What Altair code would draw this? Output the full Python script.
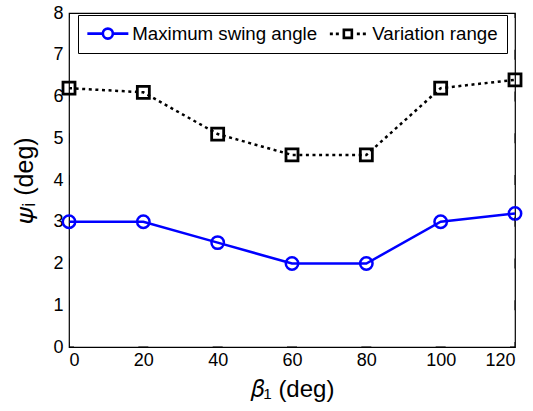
import altair as alt
import pandas as pd

beta = [0, 20, 40, 60, 80, 100, 120]
max_swing = [3.0, 3.0, 2.5, 2.0, 2.0, 3.0, 3.2]
variation = [6.2, 6.1, 5.1, 4.6, 4.6, 6.2, 6.4]
series_names = ["Maximum swing angle", "Variation range"]
x_ticks = [0, 20, 40, 60, 80, 100, 120]
y_ticks = [0, 1, 2, 3, 4, 5, 6, 7, 8]

rows = []
for b, v in zip(beta, max_swing):
    rows.append({"beta": b, "val": v, "series": series_names[0]})
for b, v in zip(beta, variation):
    rows.append({"beta": b, "val": v, "series": series_names[1]})
df = pd.DataFrame(rows)
df_xt = pd.DataFrame({"t": x_ticks})
df_yt = pd.DataFrame({"t": y_ticks})

W, H = 446, 334
FONT = "Liberation Sans"

circ_path = ("M-4.1,0L-1.0,0M1.0,0L4.1,0"
             "M-1.0,0A1.0,1.0 0 1,0 1.0,0A1.0,1.0 0 1,0 -1.0,0")
sq_path = ("M-3.6,0L-3.0,0M-2.4,0L-1.8,0M1.8,0L2.4,0M3.0,0L3.6,0"
           "M-0.8,-0.8L0.8,-0.8L0.8,0.8L-0.8,0.8Z")

color_scale = alt.Scale(domain=series_names, range=["#0000ff", "#000000"])
xs = alt.Scale(domain=[0, 120], nice=False)
ys = alt.Scale(domain=[0, 8], nice=False)

x_main = alt.X("beta:Q", scale=xs,
               axis=alt.Axis(values=x_ticks, ticks=False, domain=False,
                             title="𝛽₁ (deg)", labelFontSize=18, labelFont=FONT,
                             labelColor="black", labelPadding=4, titleFont=FONT,
                             titleFontSize=24, titleFontWeight="normal",
                             titleColor="black", titlePadding=8, grid=False))
y_main = alt.Y("val:Q", scale=ys,
               axis=alt.Axis(values=y_ticks, ticks=False, domain=False,
                             title="𝜓ᵢ (deg)", labelFontSize=18, labelFont=FONT,
                             labelColor="black", labelPadding=6, titleFont=FONT,
                             titleFontSize=25, titleFontWeight="normal",
                             titleColor="black", titlePadding=15, grid=False))

base = alt.Chart(df)

line_blue = base.transform_filter(alt.datum.series == series_names[0]).mark_line(
    strokeWidth=2.5, color="#0000ff").encode(x=x_main, y=y_main)

line_black = base.transform_filter(alt.datum.series == series_names[1]).mark_line(
    strokeWidth=2.5, color="#000000", strokeDash=[3, 3.6], strokeCap="butt").encode(
    x="beta:Q", y="val:Q")

circles = base.transform_filter(alt.datum.series == series_names[0]).mark_point(
    shape="circle", filled=False, strokeWidth=2.5, opacity=1,
    color="#0000ff", size=154).encode(x="beta:Q", y="val:Q")

squares = base.transform_filter(alt.datum.series == series_names[1]).mark_point(
    shape="square", filled=False, strokeWidth=2.8, opacity=1,
    color="#000000", size=144).encode(x="beta:Q", y="val:Q")

legend_layer = base.mark_point(filled=False, opacity=0).encode(
    x="beta:Q",
    y="val:Q",
    color=alt.Color("series:N", scale=color_scale,
                    legend=alt.Legend(orient="none", legendX=9, legendY=2,
                                      direction="horizontal", title=None,
                                      symbolSize=100, symbolOffset=11.5,
                                      labelOffset=15, labelFontSize=18.7,
                                      labelFont=FONT, labelColor="black",
                                      labelLimit=400,
                                      padding=9, strokeColor="black",
                                      fillColor="white", columnPadding=6,
                                      symbolStrokeWidth=2.6, symbolOpacity=1)),
    shape=alt.Shape("series:N", scale=alt.Scale(domain=series_names, range=[circ_path, sq_path])),
)

tick_style = dict(clip=True, size=10, thickness=1, color="black", opacity=1)
xt_bottom = alt.Chart(df_xt).mark_tick(orient="horizontal", **tick_style).encode(
    x="t:Q", y=alt.YDatum(0))
xt_top = alt.Chart(df_xt).mark_tick(orient="horizontal", **tick_style).encode(
    x="t:Q", y=alt.YDatum(8))
yt_left = alt.Chart(df_yt).mark_tick(orient="vertical", **tick_style).encode(
    y="t:Q", x=alt.XDatum(0))
yt_right = alt.Chart(df_yt).mark_tick(orient="vertical", **tick_style).encode(
    y="t:Q", x=alt.XDatum(120))

chart = alt.layer(line_blue, line_black, circles, squares,
                  xt_bottom, xt_top, yt_left, yt_right, legend_layer).properties(
    width=W, height=H,
    autosize=alt.AutoSizeParams(type="none"),
    padding={"left": 69, "top": 13, "right": 18, "bottom": 64},
    background="white",
).configure_view(stroke="black", strokeWidth=1.2)

chart.save("out.html", embed_options={"renderer": "svg", "actions": False})
